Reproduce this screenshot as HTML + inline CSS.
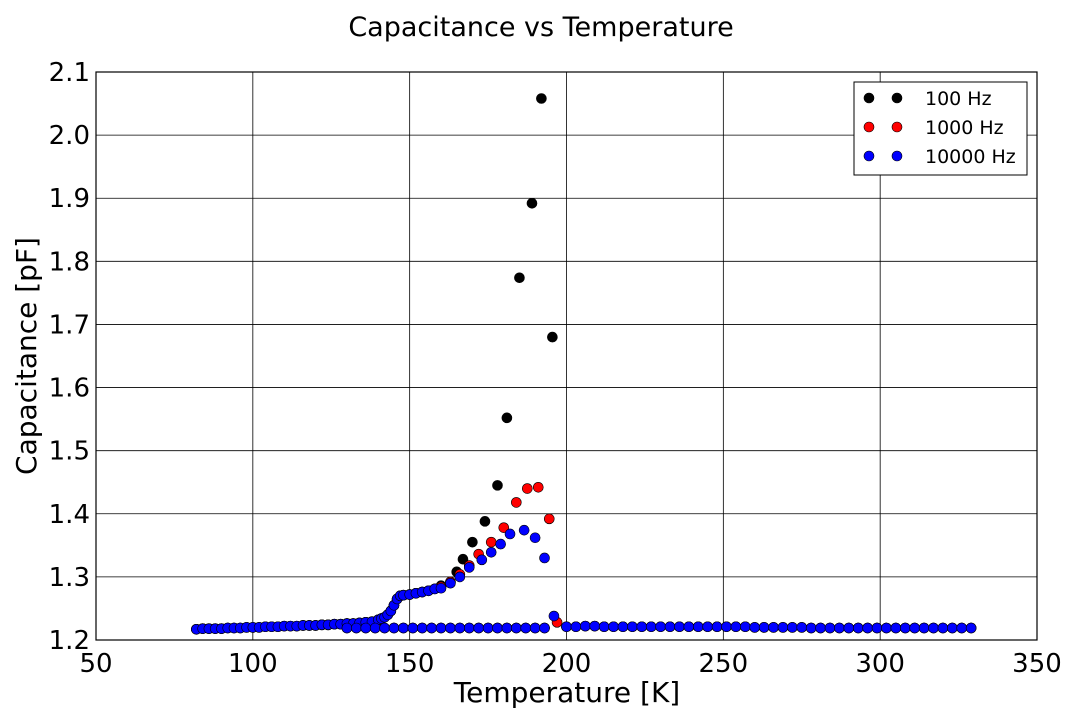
<!DOCTYPE html>
<html><head><meta charset="utf-8"><style>
body{margin:0;background:#fff;}
svg text{font-family:"DejaVu Sans","Liberation Sans",sans-serif;}
</style></head><body>
<svg id="chart" width="1080" height="720" xmlns="http://www.w3.org/2000/svg">
<rect width="1080" height="720" fill="#fff"/>
<text x="541" y="36" font-size="27" text-anchor="middle">Capacitance vs Temperature</text>
<g id="grid"></g>
<g id="marks"></g>
<rect x="96" y="72" width="941" height="568" fill="none" stroke="#000" stroke-width="1.2"/>
<g id="ticks"></g>
<text x="567" y="702" font-size="28" text-anchor="middle">Temperature [K]</text>
<text x="36" y="356" font-size="28" text-anchor="middle" transform="rotate(-90 36 356)">Capacitance [pF]</text>
<g>
<rect x="854" y="82" width="173" height="93" fill="#fff" stroke="#000" stroke-width="1"/>
<g id="legend"></g>
</g>
</svg>
<script>
const xTicks=[50,100,150,200,250,300,350];
const yTicks=[1.2,1.3,1.4,1.5,1.6,1.7,1.8,1.9,2.0,2.1];
const yTickLabels=["1.2","1.3","1.4","1.5","1.6","1.7","1.8","1.9","2.0","2.1"];
const seriesNames=["100 Hz","1000 Hz","10000 Hz"];
const seriesColors=["#000000","#ff0000","#0000ff"];
// shared baseline (heating low-T branch, cooling branch, high-T branch)
const baseTemps=[82,84,86,88,90,92,94,96,98,100,102,104,106,108,110,112,114,116,118,120,122,124,126,128,130,132,134,136,138,140,141,142,143,144,145,146,147,148,150,152,154,156,158,
130,133,136,139,142,145,148,151,154,157,160,163,166,169,172,175,178,181,184,187,190,193,
200,203,206,209,212,215,218,221,224,227,230,233,236,239,242,245,248,251,254,257,260,263,266,269,272,275,278,281,284,287,290,293,296,299,302,305,308,311,314,317,320,323,326,329];
const baseCaps=[1.217,1.218,1.218,1.218,1.218,1.219,1.219,1.219,1.220,1.220,1.220,1.221,1.221,1.221,1.222,1.222,1.222,1.223,1.223,1.223,1.224,1.224,1.225,1.225,1.226,1.226,1.227,1.228,1.229,1.232,1.234,1.236,1.240,1.246,1.255,1.265,1.270,1.271,1.272,1.274,1.276,1.278,1.281,
1.219,1.219,1.219,1.219,1.219,1.219,1.219,1.219,1.219,1.219,1.219,1.219,1.219,1.219,1.219,1.219,1.219,1.219,1.219,1.219,1.219,1.219,
1.221,1.221,1.222,1.222,1.221,1.221,1.221,1.221,1.221,1.221,1.221,1.221,1.221,1.221,1.221,1.221,1.221,1.221,1.221,1.221,1.220,1.220,1.220,1.220,1.220,1.220,1.219,1.219,1.219,1.219,1.219,1.219,1.219,1.219,1.219,1.219,1.219,1.219,1.219,1.219,1.219,1.219,1.219,1.219];
const peak100Temps=[160,163,165,167,170,174,178,181,185,189,192,195.5];
const peak100Caps=[1.286,1.292,1.308,1.328,1.355,1.388,1.445,1.552,1.774,1.892,2.058,1.680];
const peak1000Temps=[160,163,166,169,172,176,180,184,187.5,191,194.5,197];
const peak1000Caps=[1.284,1.292,1.304,1.318,1.336,1.355,1.378,1.418,1.440,1.442,1.392,1.228];
const peak10000Temps=[160,163,166,169,173,176,179,182,186.5,190,193,196];
const peak10000Caps=[1.282,1.290,1.300,1.315,1.327,1.339,1.352,1.368,1.374,1.362,1.330,1.238];
const peakTemps=[peak100Temps,peak1000Temps,peak10000Temps];
const peakCaps=[peak100Caps,peak1000Caps,peak10000Caps];

const X0=96,X1=1037,Y0=640,Y1=72;
const xs=v=>X0+(v-50)/(350-50)*(X1-X0);
const ys=v=>Y0-(v-1.2)/(2.1-1.2)*(Y0-Y1);
const NS="http://www.w3.org/2000/svg";
function mk(tag,attrs,parent){const e=document.createElementNS(NS,tag);for(const k in attrs)e.setAttribute(k,attrs[k]);parent.appendChild(e);return e;}
const grid=document.getElementById('grid'),ticks=document.getElementById('ticks'),marks=document.getElementById('marks'),legend=document.getElementById('legend');
xTicks.forEach(t=>{const x=xs(t);
 const l=mk('line',{x1:x,x2:x,y1:Y1,y2:Y0,stroke:'#000','stroke-width':0.8},grid);
 
 
 const tx=mk('text',{x:x,y:672,'font-size':26,'text-anchor':'middle'},ticks);tx.textContent=t;
 
 
});
yTicks.forEach((t,i)=>{const y=ys(t);
 const l=mk('line',{x1:X0,x2:X1,y1:y,y2:y,stroke:'#000','stroke-width':0.8},grid);
 
 
 const tx=mk('text',{x:90,y:y+9,'font-size':26,'text-anchor':'end'},ticks);tx.textContent=yTickLabels[i];
 
 
});
[0,1,2].forEach(s=>{
 const g=mk('g',{},marks);
 
 
 const T=baseTemps.concat(peakTemps[s]),C=baseCaps.concat(peakCaps[s]);
 T.forEach((t,i)=>{const c=mk('circle',{cx:xs(t),cy:ys(C[i]),r:5,fill:seriesColors[s],stroke:'#000','stroke-width':0.6},g);
  
  
 });
 const y=98+s*29;
 const le=mk('g',{},legend);
 
 
 mk('circle',{cx:869,cy:y,r:5,fill:seriesColors[s],stroke:'#000','stroke-width':0.6},le);
 mk('circle',{cx:897,cy:y,r:5,fill:seriesColors[s],stroke:'#000','stroke-width':0.6},le);
 const tx=mk('text',{x:925,y:y+7,'font-size':19},le);tx.textContent=seriesNames[s];
});
</script>
</body></html>
